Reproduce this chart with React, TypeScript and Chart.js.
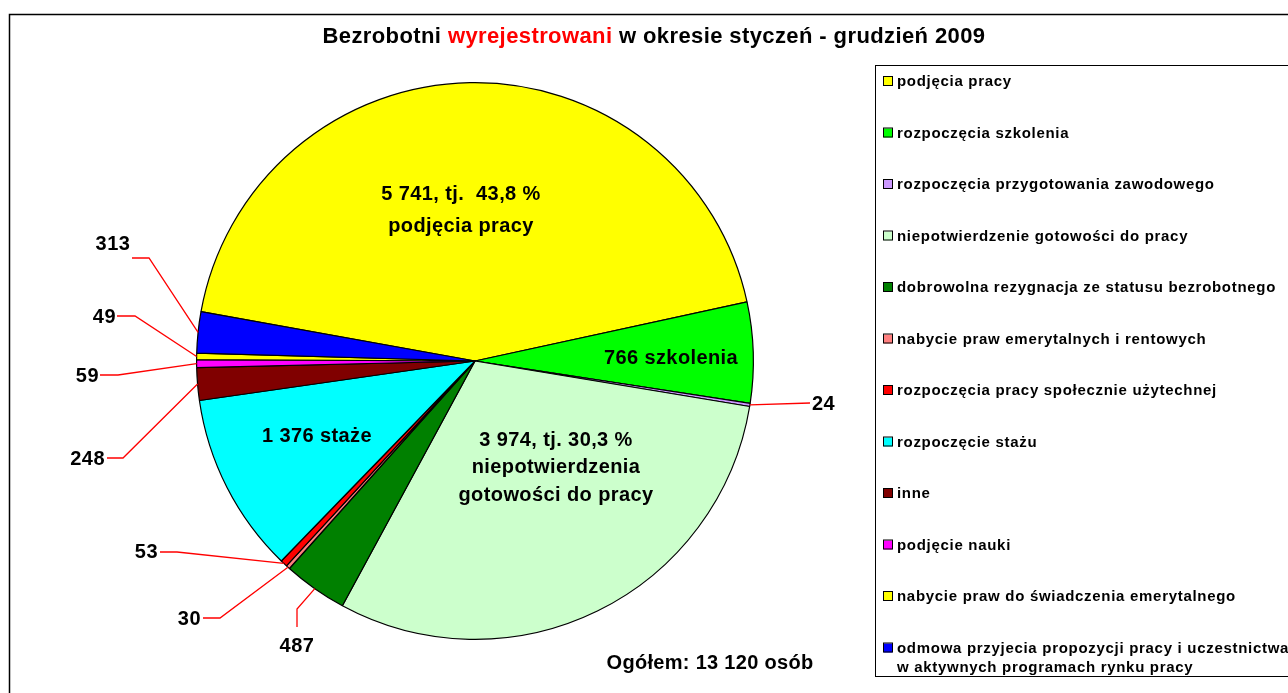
import React, { useEffect, useRef } from "react";
import { Chart, registerables } from "chart.js";

Chart.register(...registerables);

// ---- data ----
const categories = [
  "podjęcia pracy",
  "rozpoczęcia szkolenia",
  "rozpoczęcia przygotowania zawodowego",
  "niepotwierdzenie gotowości do pracy",
  "dobrowolna rezygnacja ze statusu bezrobotnego",
  "nabycie praw emerytalnych i rentowych",
  "rozpoczęcia pracy społecznie użytechnej",
  "rozpoczęcie stażu",
  "inne",
  "podjęcie nauki",
  "nabycie praw do świadczenia emerytalnego",
  "odmowa przyjecia propozycji pracy i uczestnictwa\nw aktywnych programach rynku pracy",
];
const values = [5741, 766, 24, 3974, 487, 30, 53, 1376, 248, 59, 49, 313];
const colors = [
  "#FFFF00",
  "#00FF00",
  "#CC99FF",
  "#CCFFCC",
  "#008000",
  "#FF8080",
  "#FF0000",
  "#00FFFF",
  "#800000",
  "#FF00FF",
  "#FFFF00",
  "#0000FF",
];
const titleParts = [
  { text: "Bezrobotni ", color: "#000000" },
  { text: "wyrejestrowani", color: "#FF0000" },
  { text: " w okresie styczeń - grudzień 2009", color: "#000000" },
];
const insideLabels: (string[] | null)[] = [
  ["5 741, tj.  43,8 %", "podjęcia pracy"],
  ["766 szkolenia"],
  null,
  ["3 974, tj. 30,3 %", "niepotwierdzenia", "gotowości do pracy"],
  null,
  null,
  null,
  ["1 376 staże"],
  null,
  null,
  null,
  null,
];
const outsideLabels: (string | null)[] = [
  null, null, "24", null, "487", "30", "53", null, "248", "59", "49", "313",
];
const totalLabel = "Ogółem: 13 120 osób";

// ---- layout (positions only) ----
const insidePos: ([number, number, number] | null)[] = [
  [461, 194, 32], [671, 358, 28], null, [556, 440, 27.5], null, null, null, [317, 436, 28], null, null, null, null,
];
type Leader = { elbow: [number, number]; end: [number, number]; text: [number, number]; align: CanvasTextAlign };
const leaders: (Leader | null)[] = [
  null,
  null,
  { elbow: [810, 403], end: [810, 403], text: [812, 404], align: "left" },
  null,
  { elbow: [297, 609], end: [297, 627], text: [297, 646], align: "center" },
  { elbow: [220, 618], end: [203, 618], text: [201, 619], align: "right" },
  { elbow: [177, 552], end: [160, 552], text: [158, 552], align: "right" },
  null,
  { elbow: [123, 458], end: [107, 458], text: [105, 459], align: "right" },
  { elbow: [118, 375], end: [100, 375], text: [99, 376], align: "right" },
  { elbow: [135, 316], end: [117, 316], text: [116, 317], align: "right" },
  { elbow: [149, 258], end: [132, 258], text: [113, 244], align: "center" },
];

const FONT = '"Liberation Sans", Arial, Helvetica, sans-serif';

const decorPlugin = {
  id: "decor",
  beforeDraw(chart: any) {
    const ctx = chart.ctx as CanvasRenderingContext2D;
    ctx.save();
    ctx.fillStyle = "#ffffff";
    ctx.fillRect(0, 0, chart.width, chart.height);
    ctx.restore();
  },
  afterDraw(chart: any) {
    const ctx = chart.ctx as CanvasRenderingContext2D;
    const c2 = ctx as any;
    const W = chart.width;
    const H = chart.height;
    ctx.save();

    // outer frame
    ctx.strokeStyle = "#000000";
    ctx.lineWidth = 1.5;
    ctx.strokeRect(9.5, 14.5, W + 20, H + 20);

    // title
    ctx.font = `bold 22px ${FONT}`;
    c2.letterSpacing = "0.4px";
    ctx.textBaseline = "middle";
    ctx.textAlign = "left";
    const totalW = titleParts.reduce((s, p) => s + ctx.measureText(p.text).width, 0);
    let tx = 654 - totalW / 2;
    for (const p of titleParts) {
      ctx.fillStyle = p.color;
      ctx.fillText(p.text, tx, 37);
      tx += ctx.measureText(p.text).width;
    }

    const meta = chart.getDatasetMeta(0);
    // inside labels
    ctx.fillStyle = "#000000";
    ctx.font = `bold 20px ${FONT}`;
    c2.letterSpacing = "0.4px";
    ctx.textAlign = "center";
    insideLabels.forEach((lines, i) => {
      const pos = insidePos[i];
      if (!lines || !pos) return;
      lines.forEach((ln, k) => {
        ctx.fillText(ln, pos[0], pos[1] + k * pos[2]);
      });
    });

    // leaders
    outsideLabels.forEach((lab, i) => {
      const L = leaders[i];
      if (!lab || !L) return;
      const arc = meta.data[i].getProps(["x", "y", "startAngle", "endAngle", "outerRadius"], true);
      const mid = (arc.startAngle + arc.endAngle) / 2;
      const sx = arc.x + Math.cos(mid) * arc.outerRadius;
      const sy = arc.y + Math.sin(mid) * arc.outerRadius;
      ctx.strokeStyle = "#FF0000";
      ctx.lineWidth = 1.3;
      ctx.beginPath();
      ctx.moveTo(sx, sy);
      ctx.lineTo(L.elbow[0], L.elbow[1]);
      ctx.lineTo(L.end[0], L.end[1]);
      ctx.stroke();
      ctx.fillStyle = "#000000";
      ctx.font = `bold 20px ${FONT}`;
      c2.letterSpacing = "0.5px";
      ctx.textAlign = L.align;
      ctx.fillText(lab, L.text[0], L.text[1]);
    });

    // total
    ctx.textAlign = "center";
    ctx.font = `bold 20px ${FONT}`;
    c2.letterSpacing = "0.3px";
    ctx.fillText(totalLabel, 710, 663);

    // legend box
    ctx.strokeStyle = "#000000";
    ctx.lineWidth = 1;
    ctx.strokeRect(875.5, 65.5, W, 611);
    ctx.font = `bold 15px ${FONT}`;
    ctx.textAlign = "left";
    c2.letterSpacing = "0.7px";
    categories.forEach((c, i) => {
      const y = 82 + i * 51.5;
      ctx.fillStyle = colors[i];
      ctx.fillRect(883.5, y - 5, 9, 9);
      ctx.strokeStyle = "#000000";
      ctx.strokeRect(883.5, y - 5.5, 9, 9);
      ctx.fillStyle = "#000000";
      c.split("\n").forEach((ln, k) => {
        ctx.fillText(ln, 897, y + k * 19);
      });
    });
    ctx.restore();
  },
};

export default function App() {
  const ref = useRef<HTMLCanvasElement>(null);
  useEffect(() => {
    document.body.style.margin = "0";
    const canvas = ref.current!;
    const chart = new Chart(canvas, {
      type: "pie",
      data: {
        labels: categories,
        datasets: [
          {
            data: values,
            backgroundColor: colors,
            borderColor: "#000000",
            borderWidth: 1.2,
          },
        ],
      },
      options: {
        responsive: false,
        devicePixelRatio: 1,
        animation: false,
        rotation: 280.2,
        layout: { padding: { left: 196, top: 82, right: 534, bottom: 53 } },
        plugins: {
          legend: { display: false },
          title: { display: false },
          tooltip: { enabled: false },
        },
      },
      plugins: [decorPlugin],
    });
    return () => chart.destroy();
  }, []);
  return (
    <div style={{ width: 1288, height: 693, overflow: "hidden" }}>
      <canvas ref={ref} width={1288} height={693} style={{ display: "block" }} />
    </div>
  );
}
